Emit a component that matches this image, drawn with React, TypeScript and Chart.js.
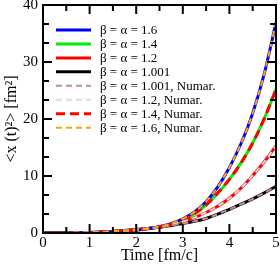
import React, { useEffect, useRef } from "react";
import { Chart, registerables } from "chart.js";

Chart.register(...registerables);

const times = [0, 0.25, 0.5, 0.75, 1, 1.25, 1.5, 1.75, 2, 2.25, 2.5, 2.75, 3, 3.25, 3.5, 3.75, 4, 4.25, 4.5, 4.75, 5];
const beta16 = [0, 0, 0.01, 0.03, 0.06, 0.12, 0.2, 0.33, 0.5, 0.75, 1.1, 1.65, 2.5, 3.7, 5.5, 8.1, 11.5, 15.7, 21.0, 28.0, 36.9];
const beta14 = [0, 0, 0.01, 0.04, 0.08, 0.15, 0.25, 0.38, 0.55, 0.8, 1.1, 1.6, 2.3, 3.4, 4.9, 7.0, 9.4, 12.3, 15.8, 20.1, 25.2];
const beta12 = [0, 0, 0.02, 0.05, 0.1, 0.17, 0.27, 0.4, 0.58, 0.8, 1.05, 1.45, 2.0, 2.7, 3.6, 4.7, 6.1, 7.9, 10.1, 12.5, 15.3];
const beta1001 = [0, 0, 0.02, 0.05, 0.1, 0.17, 0.28, 0.42, 0.6, 0.8, 1.0, 1.3, 1.65, 2.05, 2.55, 3.3, 4.15, 5.05, 6.0, 7.05, 8.2];
const numer1001 = beta1001;
const numer12 = beta12;
const numer14 = beta14;
const numer16 = beta16;

const xTicks = [0, 1, 2, 3, 4, 5];
const yTicks = [0, 10, 20, 30, 40];

const legendLabels = [
  "β = α = 1.6",
  "β = α = 1.4",
  "β = α = 1.2",
  "β = α = 1.001",
  "β = α = 1.001, Numar.",
  "β = α = 1.2, Numar.",
  "β = α = 1.4, Numar.",
  "β = α = 1.6, Numar.",
];

const SERIF = "'Liberation Serif', 'DejaVu Serif', serif";

const pts = (ys: number[]) => times.map((t, i) => ({ x: t, y: ys[i] }));

export default function App() {
  const ref = useRef<HTMLCanvasElement | null>(null);
  useEffect(() => {
    if (!ref.current) return;
    const styles = [
      { data: beta16, color: "#0000ff", width: 3, dash: [] as number[], order: 2 },
      { data: beta14, color: "#00ee00", width: 3, dash: [], order: 2 },
      { data: beta12, color: "#ff0000", width: 3, dash: [], order: 2 },
      { data: beta1001, color: "#000000", width: 3, dash: [], order: 2 },
      { data: numer1001, color: "#c09090", width: 2, dash: [6, 4], order: 1 },
      { data: numer12, color: "#dcdcdc", width: 2, dash: [6, 4], order: 1 },
      { data: numer14, color: "#ff0000", width: 3, dash: [9, 5], order: 1 },
      { data: numer16, color: "#ffa500", width: 2, dash: [6, 4], order: 0 },
    ];
    const frame = {
      id: "frame",
      afterDatasetsDraw(chart: any) {
        const ctx = chart.ctx;
        const a = chart.chartArea;
        const xs = chart.scales.x;
        const ys = chart.scales.y;
        ctx.save();
        ctx.strokeStyle = "#000";
        ctx.lineWidth = 2;
        ctx.setLineDash([]);
        ctx.strokeRect(a.left, a.top, a.right - a.left, a.bottom - a.top);
        ctx.beginPath();
        for (let i = 0; i <= 10; i++) {
          const v = i * 0.5;
          const px = xs.getPixelForValue(v);
          const len = i % 2 === 0 ? 9 : 6;
          ctx.moveTo(px, a.bottom);
          ctx.lineTo(px, a.bottom - len);
          ctx.moveTo(px, a.top);
          ctx.lineTo(px, a.top + len);
        }
        for (let i = 0; i <= 12; i++) {
          const v = (i * 10) / 3;
          const py = ys.getPixelForValue(v);
          const len = i % 3 === 0 ? 9 : 6;
          ctx.moveTo(a.left, py);
          ctx.lineTo(a.left + len, py);
          ctx.moveTo(a.right, py);
          ctx.lineTo(a.right - len, py);
        }
        ctx.stroke();
        // legend
        ctx.font = "13px " + SERIF;
        ctx.textBaseline = "middle";
        ctx.textAlign = "left";
        for (let i = 0; i < legendLabels.length; i++) {
          const s = styles[i];
          const y = a.top + 25 + i * 13.95;
          ctx.beginPath();
          ctx.strokeStyle = s.color;
          ctx.lineWidth = s.width;
          ctx.setLineDash(s.dash);
          ctx.moveTo(a.left + 13, y);
          ctx.lineTo(a.left + 48, y);
          ctx.stroke();
          ctx.setLineDash([]);
          ctx.fillStyle = "#000";
          ctx.fillText(legendLabels[i], a.left + 57, y + 1);
        }
        ctx.restore();
      },
    };
    const chart = new Chart(ref.current, {
      type: "line",
      data: {
        datasets: styles.map((s, i) => ({
          label: legendLabels[i],
          data: pts(s.data),
          borderColor: s.color,
          backgroundColor: s.color,
          borderWidth: s.width,
          borderDash: s.dash,
          pointRadius: 0,
          cubicInterpolationMode: "monotone" as const,
          fill: false,
          order: s.order,
        })),
      },
      options: {
        animation: false,
        responsive: false,
        maintainAspectRatio: false,
        layout: { padding: { top: 5, right: 4, left: 0, bottom: 0 } },
        plugins: { legend: { display: false }, tooltip: { enabled: false } },
        scales: {
          x: {
            type: "linear",
            min: 0,
            max: 5,
            grid: { display: false, drawTicks: false },
            border: { display: false },
            afterBuildTicks: (sc: any) => {
              sc.ticks = xTicks.map((v) => ({ value: v }));
            },
            afterFit: (sc: any) => {
              sc.height = 32;
              sc.paddingLeft = 0;
              sc.paddingRight = 0;
            },
            ticks: {
              font: { family: SERIF, size: 15 },
              color: "#000",
              padding: 1,
              maxRotation: 0,
              callback: (v: any) => String(v),
            },
            title: {
              display: true,
              text: "Time [fm/c]",
              font: { family: SERIF, size: 16 },
              color: "#000",
              padding: { top: 0, bottom: 0 },
            },
          },
          y: {
            type: "linear",
            min: 0,
            max: 40,
            grid: { display: false, drawTicks: false },
            border: { display: false },
            afterBuildTicks: (sc: any) => {
              sc.ticks = yTicks.map((v) => ({ value: v }));
            },
            afterFit: (sc: any) => {
              sc.width = 43;
              sc.paddingTop = 0;
              sc.paddingBottom = 0;
            },
            ticks: {
              font: { family: SERIF, size: 15 },
              color: "#000",
              padding: 5,
              callback: (v: any) => String(v),
            },
            title: {
              display: true,
              text: "<x (t)²> [fm²]",
              font: { family: SERIF, size: 16 },
              color: "#000",
              padding: { top: 2, bottom: 0 },
            },
          },
        },
      },
      plugins: [frame],
    } as any);
    return () => chart.destroy();
  }, []);
  return (
    <div style={{ position: "absolute", left: 0, top: 0, width: 280, height: 265, background: "#fff" }}>
      <canvas ref={ref} width={280} height={265} style={{ width: 280, height: 265, display: "block" }} />
    </div>
  );
}
